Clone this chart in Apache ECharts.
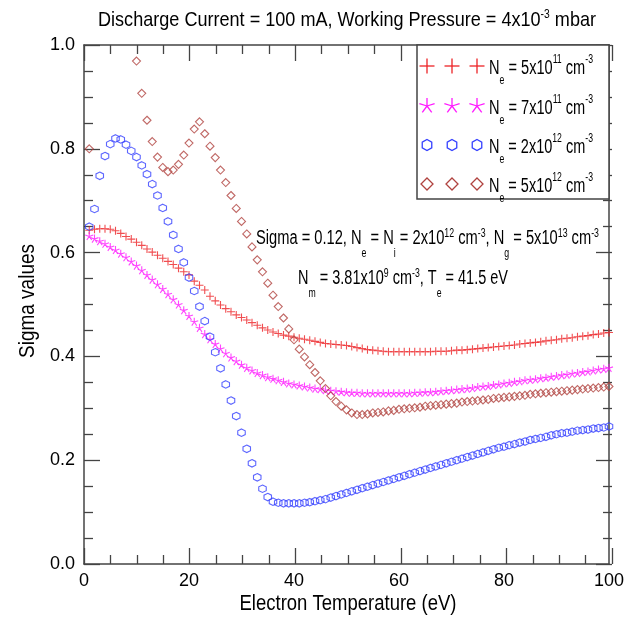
<!DOCTYPE html>
<html><head><meta charset="utf-8">
<script src="https://cdn.jsdelivr.net/npm/echarts@6/dist/echarts.min.js"></script>
<style>html,body{margin:0;padding:0;background:#fff}#c{width:627px;height:634px}</style>
</head><body><div id="c"></div>
<script>
const temperature = [1,2,3,4,5,6,7,8,9,10,11,12,13,14,15,16,17,18,19,20,21,22,23,24,25,26,27,28,29,30,31,32,33,34,35,36,37,38,39,40,41,42,43,44,45,46,47,48,49,50,51,52,53,54,55,56,57,58,59,60,61,62,63,64,65,66,67,68,69,70,71,72,73,74,75,76,77,78,79,80,81,82,83,84,85,86,87,88,89,90,91,92,93,94,95,96,97,98,99,100];

const sigmaNe5e11 = [0.643,0.645,0.646,0.646,0.645,0.642,0.637,0.631,0.626,0.620,
0.614,0.607,0.601,0.595,0.589,0.583,0.577,0.570,0.563,0.557,
0.545,0.537,0.528,0.516,0.507,0.499,0.492,0.486,0.480,0.475,
0.470,0.465,0.460,0.455,0.451,0.447,0.444,0.441,0.439,0.437,
0.435,0.433,0.431,0.429,0.427,0.425,0.424,0.423,0.422,0.421,
0.419,0.417,0.415,0.413,0.412,0.411,0.410,0.409,0.409,0.409,
0.409,0.409,0.409,0.409,0.409,0.409,0.410,0.410,0.410,0.411,
0.412,0.412,0.413,0.414,0.415,0.416,0.417,0.418,0.419,0.420,
0.421,0.422,0.424,0.425,0.426,0.427,0.428,0.430,0.431,0.432,
0.434,0.435,0.436,0.438,0.439,0.440,0.442,0.443,0.445,0.446];

const sigmaNe7e11 = [0.632,0.627,0.622,0.617,0.611,0.605,0.598,0.591,0.583,0.575,
0.566,0.557,0.548,0.539,0.530,0.520,0.510,0.500,0.489,0.478,
0.467,0.455,0.443,0.433,0.424,0.415,0.406,0.398,0.391,0.384,
0.378,0.373,0.368,0.364,0.360,0.357,0.354,0.351,0.348,0.346,
0.344,0.342,0.340,0.338,0.337,0.335,0.334,0.333,0.332,0.331,
0.330,0.330,0.329,0.329,0.329,0.329,0.329,0.329,0.329,0.329,
0.329,0.329,0.330,0.330,0.331,0.331,0.332,0.333,0.334,0.335,
0.336,0.337,0.338,0.339,0.341,0.342,0.343,0.345,0.346,0.348,
0.349,0.351,0.352,0.354,0.355,0.356,0.358,0.359,0.361,0.362,
0.364,0.365,0.367,0.368,0.370,0.371,0.373,0.375,0.376,0.378];

const sigmaNe2e12 = [0.650,0.684,0.748,0.786,0.809,0.820,0.818,0.808,0.796,0.784,
0.768,0.751,0.732,0.710,0.686,0.660,0.634,0.607,0.581,0.552,
0.526,0.496,0.468,0.438,0.408,0.377,0.346,0.315,0.285,0.253,
0.222,0.194,0.167,0.145,0.129,0.120,0.118,0.117,0.117,0.117,
0.117,0.118,0.119,0.121,0.123,0.125,0.128,0.131,0.134,0.137,
0.140,0.143,0.146,0.149,0.152,0.155,0.158,0.161,0.164,0.167,
0.170,0.173,0.176,0.179,0.182,0.185,0.188,0.191,0.194,0.197,
0.200,0.203,0.206,0.209,0.212,0.215,0.218,0.221,0.224,0.226,
0.229,0.231,0.234,0.236,0.239,0.241,0.243,0.245,0.248,0.250,
0.252,0.253,0.255,0.257,0.258,0.259,0.261,0.262,0.263,0.265];

const sigmaNe5e12 = [0.800,null,null,null,null,null,null,null,null,0.969,
0.907,0.855,0.814,0.784,0.764,0.756,0.759,0.770,0.788,0.811,
0.838,0.852,0.829,0.805,0.783,0.759,0.735,0.710,0.685,0.660,
0.636,0.611,0.586,0.563,0.541,0.518,0.496,0.474,0.453,0.432,
0.414,0.399,0.384,0.369,0.353,0.338,0.324,0.313,0.304,0.297,
0.291,0.288,0.288,0.289,0.291,0.292,0.293,0.295,0.296,0.298,
0.299,0.300,0.301,0.302,0.304,0.305,0.306,0.307,0.308,0.309,
0.310,0.312,0.313,0.314,0.315,0.316,0.317,0.319,0.320,0.321,
0.322,0.323,0.324,0.325,0.327,0.328,0.329,0.330,0.331,0.332,
0.333,0.334,0.335,0.336,0.337,0.338,0.339,0.340,0.341,0.342];

const xTicks = [0,20,40,60,80,100];
const yTicks = [0.0,0.2,0.4,0.6,0.8,1.0];

const seriesNames = ['Ne = 5x10^11 cm^-3','Ne = 7x10^11 cm^-3','Ne = 2x10^12 cm^-3','Ne = 5x10^12 cm^-3'];
const legendMantissa = ['5','7','2','5'];
const legendExponent = ['11','11','12','12'];

const FONT = "'Liberation Sans',Arial,sans-serif";
const COLORS = ['#ec2226','#ff19ff','#3440ff','#b0423f'];
const SYMBOLS = [
  'path://M0,5L10,5M5,0L5,10',
  'path://M5,5L5,0M5,5L9.755,3.455M5,5L0.245,3.455M5,5L7.939,9.045M5,5L2.061,9.045',
  'path://M5,0L9.33,2.5L9.33,7.5L5,10L0.67,7.5L0.67,2.5Z',
  'path://M5,0L10,5L5,10L0,5Z'
];
const SIZES = [8,8,7.5,8];
const AXIS_COLOR = '#444';

const chart = echarts.init(document.getElementById('c'), null, {renderer:'canvas'});
const mctx = document.createElement('canvas').getContext('2d');
function tw(t, size){ mctx.font = size + 'px ' + FONT; return mctx.measureText(t).width; }

function richLine(parts, x, y, align, main, small, subDy, supDy, targetW){
  let total = 0;
  parts.forEach(p => { total += tw(p[0], p[1]==='n'?main:small); });
  const sc = targetW ? targetW/total : 0.82;
  const W = total*sc;
  let cx = align==='center' ? x - W/2 : (align==='right' ? x - W : x);
  const els = [];
  parts.forEach(p => {
    const size = p[1]==='n'?main:small;
    const dy = p[1]==='sub'?subDy:(p[1]==='sup'?supDy:0);
    els.push({type:'text', x:cx, y:y+dy, z:100, scaleX:sc, style:{text:p[0], font:size+'px '+FONT, fill:'#000', textAlign:'left', textVerticalAlign:'middle'}});
    cx += tw(p[0], size)*sc;
  });
  return els;
}

const graphics = [];
graphics.push(...richLine([['Discharge Current = 100 mA, Working Pressure = 4x10','n'],['-3','sup'],[' mbar','n']], 347, 20, 'center', 21, 12, 0, -5, 498));
graphics.push(...richLine([['Sigma = 0.12, N','n'],['e','sub'],[' = N','n'],['i','sub'],[' = 2x10','n'],['12','sup'],[' cm','n'],['-3','sup'],[', N','n'],['g','sub'],[' = 5x10','n'],['13','sup'],[' cm','n'],['-3','sup']], 256, 238, 'left', 20, 12, 16, -4, 343));
graphics.push(...richLine([['N','n'],['m','sub'],[' = 3.81x10','n'],['9','sup'],[' cm','n'],['-3','sup'],[', T','n'],['e','sub'],[' = 41.5 eV','n']], 298, 278, 'left', 20, 12, 16, -4, 210));

graphics.push({type:'text', x:348, y:604, z:100, scaleX:217/tw('Electron Temperature (eV)',22), style:{text:'Electron Temperature (eV)', font:'22px '+FONT, fill:'#000', textAlign:'center', textVerticalAlign:'middle'}});
graphics.push({type:'text', x:28, y:301, z:100, rotation:Math.PI/2, scaleX:114/tw('Sigma values',22), style:{text:'Sigma values', font:'22px '+FONT, fill:'#000', textAlign:'center', textVerticalAlign:'middle'}});

graphics.push({type:'rect', z:90, shape:{x:417, y:45, width:192, height:154}, style:{fill:'#fff', stroke:AXIS_COLOR, lineWidth:1.5}});
const rowY = [66,106,145,184];
const legendSymSize = [15,16,11,12];
function legendSymbol(i, cx, cy, s){
  const st = {stroke:COLORS[i], fill:'none', lineWidth:1.3};
  const h = s/2;
  if (i===0) return [
    {type:'line', z:95, shape:{x1:cx-h,y1:cy,x2:cx+h,y2:cy}, style:st},
    {type:'line', z:95, shape:{x1:cx,y1:cy-h,x2:cx,y2:cy+h}, style:st}];
  if (i===1) {
    const dirs = [[0,-1],[0.951,-0.309],[-0.951,-0.309],[0.588,0.809],[-0.588,0.809]];
    return dirs.map(d => ({type:'line', z:95, shape:{x1:cx,y1:cy,x2:cx+d[0]*h,y2:cy+d[1]*h}, style:st}));
  }
  if (i===2) return [{type:'polygon', z:95, shape:{points:[[cx,cy-h],[cx+0.866*h,cy-h/2],[cx+0.866*h,cy+h/2],[cx,cy+h],[cx-0.866*h,cy+h/2],[cx-0.866*h,cy-h/2]]}, style:st}];
  return [{type:'polygon', z:95, shape:{points:[[cx,cy-h],[cx+h,cy],[cx,cy+h],[cx-h,cy]]}, style:st}];
}
for (let i=0;i<4;i++){
  [427,452,477].forEach(cx => { graphics.push(...legendSymbol(i, cx, rowY[i], legendSymSize[i])); });
  graphics.push(...richLine([['N','n'],['e','sub'],[' = '+legendMantissa[i]+'x10','n'],[legendExponent[i],'sup'],[' cm','n'],['-3','sup']], 489, rowY[i]+2, 'left', 20, 12, 13, -8, 104));
}

const series = [sigmaNe5e11, sigmaNe7e11, sigmaNe2e12, sigmaNe5e12].map((arr,i) => ({
  type:'scatter', name: seriesNames[i], xAxisIndex:0, yAxisIndex:0,
  data: temperature.map((t,k) => [t, arr[k]]),
  symbol: SYMBOLS[i], symbolSize: SIZES[i],
  itemStyle:{color:'rgba(0,0,0,0)', borderColor:COLORS[i], borderWidth:1.1},
  emphasis:{disabled:true}, silent:true, animation:false, clip:true
}));

// plot frame: main grid 0
const PL = 84, PT = 45, PW = 528, PH = 519;
const grids = [{left:PL, top:PT, width:PW, height:PH}];
const xAxes = [
  {type:'value', gridIndex:0, position:'bottom', min:0, max:100, interval:20,
   axisLine:{show:true, onZero:false, lineStyle:{color:AXIS_COLOR, width:1.5}}, axisTick:{show:false}, splitLine:{show:false},
   axisLabel:{show:true, margin:8, color:'#000', fontSize:18, fontFamily:FONT, formatter: v => xTicks.includes(v) ? String(v) : ''}},
  {type:'value', gridIndex:0, position:'top', min:0, max:100, interval:20,
   axisLine:{show:true, onZero:false, lineStyle:{color:AXIS_COLOR, width:1.5}}, axisTick:{show:false}, splitLine:{show:false}, axisLabel:{show:false}}
];
const yAxes = [
  {type:'value', gridIndex:0, position:'left', min:0, max:1, interval:0.2,
   axisLine:{show:true, onZero:false, lineStyle:{color:AXIS_COLOR, width:1.5}}, axisTick:{show:false}, splitLine:{show:false},
   axisLabel:{show:true, margin:9, color:'#000', fontSize:18, fontFamily:FONT, formatter: v => yTicks.some(t => Math.abs(t-v)<1e-9) ? v.toFixed(1) : ''}},
  {type:'value', gridIndex:0, position:'right', min:0, max:1, interval:0.2,
   axisLine:{show:true, onZero:false, lineStyle:{color:AXIS_COLOR, width:1.5}}, axisTick:{show:false}, splitLine:{show:false}, axisLabel:{show:false}}
];

// inward tick marks along the four sides, drawn as split lines of thin strips sharing the axis scales
function tickStrip(side, len, minor){
  const gi = grids.length;
  let g;
  if (side==='bottom') g = {left:PL, width:PW, top:PT+PH-len, height:len};
  else if (side==='top') g = {left:PL, width:PW, top:PT, height:len};
  else if (side==='left') g = {left:PL, width:len, top:PT, height:PH};
  else g = {left:PL+PW-len, width:len, top:PT, height:PH};
  grids.push(g);
  const ls = {color:AXIS_COLOR, width:1.3};
  const tickAxis = {gridIndex:gi, type:'value', show:true,
    axisLine:{show:false}, axisTick:{show:false}, axisLabel:{show:false},
    splitLine:{show:!minor, lineStyle:ls}, minorTick:{show:false, splitNumber:4}, minorSplitLine:{show:minor, lineStyle:ls}};
  const dummy = {gridIndex:gi, type:'value', show:false, min:0, max:1};
  if (side==='bottom' || side==='top') {
    xAxes.push(Object.assign(tickAxis, {min:0, max:100, interval:20}));
    yAxes.push(dummy);
  } else {
    yAxes.push(Object.assign(tickAxis, {min:0, max:1, interval:0.2}));
    xAxes.push(dummy);
  }
}
['bottom','top','left','right'].forEach(s => { tickStrip(s, 16, false); tickStrip(s, 9, true); });

chart.setOption({
  animation:false,
  backgroundColor:'#fff',
  grid: grids,
  xAxis: xAxes,
  yAxis: yAxes,
  series: series,
  graphic: graphics
});
</script></body></html>
